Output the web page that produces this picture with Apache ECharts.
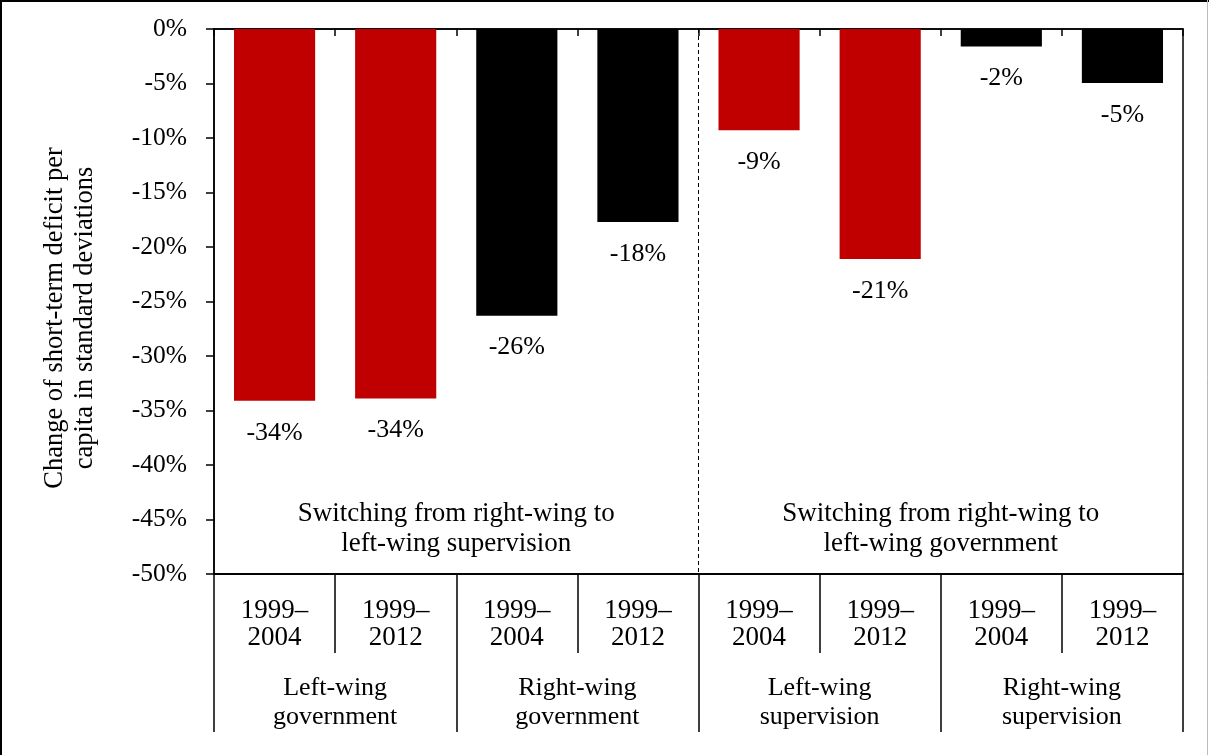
<!DOCTYPE html>
<html>
<head>
<meta charset="utf-8">
<script src="https://cdn.jsdelivr.net/npm/echarts@6/dist/echarts.min.js"></script>
<style>
html,body{margin:0;padding:0;background:#fff;}
#c{width:1210px;height:755px;}
</style>
</head>
<body>
<div id="c"></div>
<script>
// ---- data ----
const periods = ['1999–\n2004', '1999–\n2012', '1999–\n2004', '1999–\n2012', '1999–\n2004', '1999–\n2012', '1999–\n2004', '1999–\n2012'];
const groups = ['Left-wing\ngovernment', 'Right-wing\ngovernment', 'Left-wing\nsupervision', 'Right-wing\nsupervision'];
const values = [-34.1, -33.9, -26.3, -17.7, -9.3, -21.1, -1.6, -4.95];
const barColors = ['#C00000', '#C00000', '#000000', '#000000', '#C00000', '#C00000', '#000000', '#000000'];
const yTicks = { min: -50, max: 0, interval: 5 };
const annotations = ['Switching from right-wing to\nleft-wing supervision', 'Switching from right-wing to\nleft-wing government'];
const annotationPos = [[2, -45.9], [6, -45.9]];
const separatorX = 4;
const yTitle = 'Change of short-term deficit per\ncapita in standard deviations';

const FONT = 'Liberation Serif';
const chart = echarts.init(document.getElementById('c'), null, { renderer: 'canvas' });

const option = {
  backgroundColor: '#fff',
  animation: false,
  grid: { left: 214, top: 29, right: 27, bottom: 181, show: true, borderColor: '#000', borderWidth: 1.5, backgroundColor: 'transparent' },
  xAxis: [
    {
      type: 'category', position: 'top', data: periods,
      axisLine: { onZero: false, lineStyle: { color: '#000', width: 1.5 } },
      axisTick: { show: true, inside: true, length: 7, lineStyle: { color: '#000', width: 1.5 } },
      axisLabel: { show: false },
      splitLine: { show: false }
    },
    {
      type: 'category', position: 'bottom', data: periods,
      axisLine: { onZero: false, lineStyle: { color: '#000', width: 1.5 } },
      axisTick: { show: true, length: 79, interval: 0, lineStyle: { color: '#000', width: 1.5 } },
      axisLabel: { interval: 0, margin: 23, fontFamily: FONT, fontSize: 27, color: '#000', lineHeight: 27 },
      splitLine: { show: false }
    },
    {
      type: 'category', position: 'bottom', data: groups,
      axisLine: { onZero: false, lineStyle: { color: '#000', width: 1.5 } },
      axisTick: { show: true, length: 158, interval: 0, lineStyle: { color: '#000', width: 1.5 } },
      axisLabel: { interval: 0, margin: 100, fontFamily: FONT, fontSize: 26, color: '#000', lineHeight: 29 },
      splitLine: { show: false }
    },
    {
      type: 'value', position: 'bottom', min: 0, max: periods.length, show: false,
      axisLine: { onZero: false }, splitLine: { show: false }
    }
  ],
  yAxis: {
    type: 'value', min: yTicks.min, max: yTicks.max, interval: yTicks.interval,
    axisLine: { show: true, lineStyle: { color: '#000', width: 1.5 } },
    axisTick: { show: true, length: 8, lineStyle: { color: '#000', width: 1.5 } },
    axisLabel: { formatter: v => v + '%', fontFamily: FONT, fontSize: 25.5, color: '#000', margin: 27 },
    splitLine: { show: false }
  },
  series: [
    {
      type: 'bar', xAxisIndex: 0, yAxisIndex: 0,
      data: values.map((v, i) => ({ value: v, itemStyle: { color: barColors[i] } })),
      barCategoryGap: '33%',
      label: {
        show: true, position: 'bottom', distance: 19,
        formatter: p => Math.round(p.value) + '%',
        fontFamily: FONT, fontSize: 26, color: '#000'
      }
    },
    {
      type: 'line', xAxisIndex: 3, yAxisIndex: 0,
      data: [[separatorX, yTicks.max], [separatorX, yTicks.min]],
      symbol: 'none', silent: true,
      lineStyle: { color: '#000', width: 1, type: [4, 3] }
    },
    {
      type: 'scatter', xAxisIndex: 3, yAxisIndex: 0,
      data: annotationPos.map((p, i) => ({ value: p, name: annotations[i] })),
      symbolSize: 0, silent: true,
      itemStyle: { color: '#000', opacity: 1 },
      label: {
        show: true, position: [0, 0], formatter: p => p.name,
        fontFamily: FONT, fontSize: 27, color: '#000', opacity: 1, lineHeight: 30, align: 'center', verticalAlign: 'middle'
      }
    }
  ],
  graphic: [
    { type: 'line', shape: { x1: 0, y1: 1, x2: 1209, y2: 1 }, style: { stroke: '#000', lineWidth: 2 } },
    { type: 'line', shape: { x1: 1, y1: 0, x2: 1, y2: 755 }, style: { stroke: '#000', lineWidth: 2 } },
    { type: 'line', shape: { x1: 1207.5, y1: 0, x2: 1207.5, y2: 755 }, style: { stroke: '#bbb', lineWidth: 1 } },
    {
      type: 'text', x: 70, y: 318, rotation: Math.PI / 2,
      style: { text: yTitle, fontFamily: FONT, fontSize: 26.5, fill: '#000', align: 'center', verticalAlign: 'middle', lineHeight: 30 }
    }
  ]
};
chart.setOption(option);
</script>
</body>
</html>
